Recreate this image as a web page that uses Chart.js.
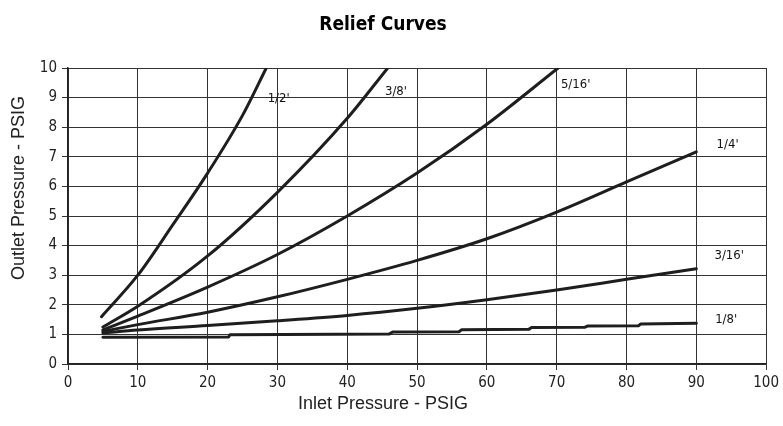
<!DOCTYPE html>
<html>
<head>
<meta charset="utf-8">
<title>Relief Curves</title>
<script src="https://cdn.jsdelivr.net/npm/chart.js@4"></script>
<style>
    html, body { margin: 0; padding: 0; background: #fff; }
    #wrap { width: 783px; height: 426px; }
</style>
</head>
<body>
<div id="wrap"><canvas id="reliefChart" width="783" height="426"></canvas></div>
<script>
// Relief curves

const seriesNames = ["1/2'", "3/8'", "5/16'", "1/4'", "3/16'", "1/8'"];

const inletHalf = [4.8, 10, 15, 20, 25, 28.4];
const outletHalf = [1.6, 3.0, 4.7, 6.45, 8.4, 10];

const inletThreeEighths = [5, 10, 20, 30, 40, 45.8];
const outletThreeEighths = [1.25, 1.95, 3.65, 5.8, 8.3, 10];

const inletFiveSixteenths = [5, 10, 20, 30, 40, 50, 60, 70.2];
const outletFiveSixteenths = [1.15, 1.62, 2.6, 3.7, 5.0, 6.45, 8.1, 10];

const inletQuarter = [5, 10, 20, 30, 40, 50, 60, 70, 80, 90];
const outletQuarter = [1.1, 1.33, 1.75, 2.27, 2.86, 3.5, 4.23, 5.13, 6.15, 7.17];

const inletThreeSixteenths = [5, 10, 20, 30, 40, 50, 60, 70, 80, 90];
const outletThreeSixteenths = [1.05, 1.15, 1.3, 1.46, 1.64, 1.88, 2.17, 2.5, 2.86, 3.22];

const inletEighth = [5, 23, 23.2, 46, 46.5, 56, 56.4, 66, 66.4, 74, 74.4, 81.7, 82, 90];
const outletEighth = [0.9, 0.91, 0.99, 1.01, 1.08, 1.09, 1.16, 1.17, 1.23, 1.24, 1.28, 1.29, 1.35, 1.38];

const xTicks = [0, 10, 20, 30, 40, 50, 60, 70, 80, 90, 100];
const yTicks = [0, 1, 2, 3, 4, 5, 6, 7, 8, 9, 10];

const narrowFont = '"Liberation Sans Narrow", "DejaVu Sans Condensed", sans-serif';

function toPoints(xs, ys) {
    return xs.map((x, i) => ({ x: x, y: ys[i] }));
}

function curve(label, xs, ys, tension) {
    return {
        label: label,
        data: toPoints(xs, ys),
        showLine: true,
        borderColor: '#1e1e1e',
        borderWidth: 3,
        pointRadius: 0,
        tension: tension,
        cubicInterpolationMode: tension ? 'monotone' : 'default',
        borderCapStyle: 'round',
        borderJoinStyle: 'round'
    };
}

// where each size label sits, in data units
const labelSpots = [
    { x: 28.6, y: 8.95 },
    { x: 45.4, y: 9.2 },
    { x: 70.6, y: 9.45 },
    { x: 92.9, y: 7.4 },
    { x: 92.6, y: 3.65 },
    { x: 92.7, y: 1.5 }
];

const textPlugin = {
    id: 'textPlugin',
    afterDraw(chart) {
        const ctx = chart.ctx;
        const xs = chart.scales.x;
        const ys = chart.scales.y;
        ctx.save();
        ctx.fillStyle = '#000';
        ctx.textAlign = 'center';
        ctx.textBaseline = 'middle';
        ctx.font = 'bold 19px ' + narrowFont;
        ctx.fillText('Relief Curves', 383, 25);

        ctx.fillStyle = '#222';
        ctx.font = '18px "Liberation Sans", Arial, sans-serif';
        ctx.fillText('Inlet Pressure - PSIG', 383, 404);
        ctx.save();
        ctx.translate(19, 188);
        ctx.rotate(-Math.PI / 2);
        ctx.fillText('Outlet Pressure - PSIG', 0, 0);
        ctx.restore();

        ctx.fillStyle = '#111';
        ctx.font = '13px ' + narrowFont;
        ctx.textAlign = 'left';
        seriesNames.forEach((name, i) => {
            const spot = labelSpots[i];
            ctx.fillText(name, xs.getPixelForValue(spot.x), ys.getPixelForValue(spot.y));
        });
        ctx.restore();
    }
};

const ctx = document.getElementById('reliefChart').getContext('2d');
new Chart(ctx, {
    type: 'scatter',
    data: {
        datasets: [
            curve(seriesNames[0], inletHalf, outletHalf, 0.4),
            curve(seriesNames[1], inletThreeEighths, outletThreeEighths, 0.4),
            curve(seriesNames[2], inletFiveSixteenths, outletFiveSixteenths, 0.4),
            curve(seriesNames[3], inletQuarter, outletQuarter, 0.4),
            curve(seriesNames[4], inletThreeSixteenths, outletThreeSixteenths, 0.4),
            curve(seriesNames[5], inletEighth, outletEighth, 0)
        ]
    },
    options: {
        responsive: false,
        animation: false,
        layout: { padding: { top: 68, right: 15, bottom: 0, left: 0 } },
        plugins: {
            legend: { display: false },
            tooltip: { enabled: false }
        },
        scales: {
            x: {
                type: 'linear',
                min: 0,
                max: 100,
                afterBuildTicks: (scale) => { scale.ticks = xTicks.map(v => ({ value: v })); },
                afterFit: (scale) => { scale.height = 426 - 364; },
                grid: { color: '#333', lineWidth: 1, tickLength: 6, tickColor: '#333' },
                border: { color: '#222', width: 1.5 },
                ticks: { color: '#222', padding: 4, font: { family: narrowFont, size: 15 } }
            },
            y: {
                min: 0,
                max: 10,
                afterBuildTicks: (scale) => { scale.ticks = yTicks.map(v => ({ value: v })); },
                afterFit: (scale) => { scale.width = 68; },
                grid: { color: '#333', lineWidth: 1, tickLength: 6, tickColor: '#333' },
                border: { color: '#222', width: 1.5 },
                ticks: { color: '#222', padding: 5, font: { family: narrowFont, size: 15 } }
            }
        }
    },
    plugins: [textPlugin]
});
</script>
</body>
</html>
